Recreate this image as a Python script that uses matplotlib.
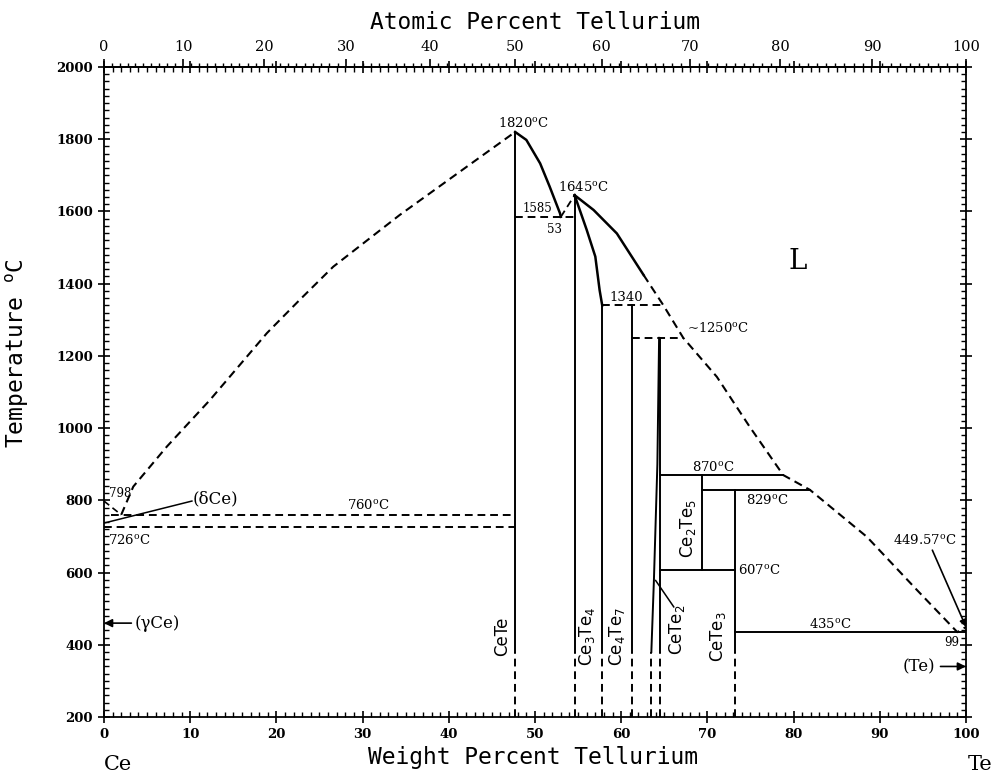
import numpy as np
import matplotlib
matplotlib.use("Agg")
import matplotlib.pyplot as plt
from matplotlib.ticker import MultipleLocator

plt.rcParams['font.family'] = ['DejaVu Serif']
plt.rcParams['mathtext.default'] = 'regular'

# ---------------- data (weight % Te, temperature in deg C) ----------------
M_TE = 127.60
M_CE = 140.116

left_liq_wt = [2.0, 3.4, 7.3, 12.3, 18.9, 22.7, 26.6, 34.3, 42.1, 47.7]
left_liq_T = [760, 838, 949, 1078, 1263, 1355, 1447, 1590, 1724, 1820]

cete_liq_wt = [47.7, 49.0, 50.6, 51.7, 52.9, 53.0]
cete_liq_T = [1820, 1798, 1733, 1669, 1595, 1585]

eut53_wt = [53.0, 54.6]
eut53_T = [1585, 1645]

solidus_wt = [54.6, 56.0, 57.0, 57.5, 57.8]
solidus_T = [1645, 1549, 1475, 1382, 1340]

right_liq_solid_wt = [54.6, 56.8, 59.5, 62.6]
right_liq_solid_T = [1645, 1604, 1539, 1424]

right_liq_dash_wt = [62.6, 64.9, 67.2, 71.1, 74.9, 78.8, 81.9, 88.5, 94.3, 99.0, 100.0]
right_liq_dash_T = [1424, 1340, 1250, 1142, 1004, 870, 829, 699, 552, 435, 449.57]

# vertical phase boundaries: (x, top T)
compounds_x = [47.7, 54.6, 57.8, 61.3, 64.5, 73.2]
compounds_top = [1820, 1645, 1340, 1340, 1250, 829]
solid_low_T = 380

cete2_left_wt = [64.4, 64.2, 63.8, 63.5]
cete2_left_T = [1250, 900, 580, 380]

# horizontal invariant lines
solid_h_T = [870, 829, 607, 435]
solid_h_x0 = [64.5, 69.4, 64.5, 73.2]
solid_h_x1 = [78.8, 81.9, 73.2, 100.0]

dash_h_T = [1585, 1340, 1250, 760, 726]
dash_h_x0 = [47.7, 57.8, 61.3, 0.8, 0.0]
dash_h_x1 = [54.6, 64.9, 67.2, 47.7, 47.7]

ce2te5_x = 69.4
ce2te5_T = [607, 870]

x_ticks = list(range(0, 101, 10))
y_ticks = list(range(200, 2001, 200))
at_ticks = list(range(0, 101, 10))


def wt_to_at(w):
    w = np.asarray(w, dtype=float)
    with np.errstate(divide='ignore', invalid='ignore'):
        a = 100.0 * (w / M_TE) / (w / M_TE + (100.0 - w) / M_CE)
    return a


def at_to_wt(a):
    a = np.asarray(a, dtype=float)
    with np.errstate(divide='ignore', invalid='ignore'):
        w = 100.0 * a * M_TE / (a * M_TE + (100.0 - a) * M_CE)
    return w


# ---------------- figure ----------------
fig = plt.figure(figsize=(9.94, 7.77), dpi=100)
ax = fig.add_axes([0.1046, 0.0772, 0.8672, 0.8366])
ax.set_xlim(0, 100)
ax.set_ylim(200, 2000)

K = 'black'
LW = 1.4
DASH = (0, (4, 2.5))

ax.plot(left_liq_wt, left_liq_T, color=K, lw=1.5, ls=DASH)
ax.plot([0, 2.0], [798, 760], color=K, lw=1.2, ls=DASH)
ax.plot(cete_liq_wt, cete_liq_T, color=K, lw=1.8)
ax.plot(eut53_wt, eut53_T, color=K, lw=1.3, ls=DASH)
ax.plot(solidus_wt, solidus_T, color=K, lw=1.8)
ax.plot(right_liq_solid_wt, right_liq_solid_T, color=K, lw=1.8)
ax.plot(right_liq_dash_wt, right_liq_dash_T, color=K, lw=1.5, ls=DASH)

for x, top in zip(compounds_x, compounds_top):
    ax.plot([x, x], [solid_low_T, top], color=K, lw=LW)
    ax.plot([x, x], [200, solid_low_T], color=K, lw=LW, ls=DASH)

ax.plot(cete2_left_wt, cete2_left_T, color=K, lw=LW)
ax.plot([cete2_left_wt[-1]] * 2, [200, solid_low_T], color=K, lw=LW, ls=DASH)

for T, x0, x1 in zip(solid_h_T, solid_h_x0, solid_h_x1):
    ax.plot([x0, x1], [T, T], color=K, lw=LW)
for T, x0, x1 in zip(dash_h_T, dash_h_x0, dash_h_x1):
    ax.plot([x0, x1], [T, T], color=K, lw=LW, ls=DASH)
ax.plot([ce2te5_x, ce2te5_x], ce2te5_T, color=K, lw=LW)

# ---------------- labels on the diagram ----------------
fs = 9.5
def lab(x, y, s, **kw):
    kw.setdefault('fontsize', fs)
    ax.text(x, y, s, ha='center', va='center', **kw)

lab(48.7, 1845, '1820$^o$C')
lab(55.6, 1668, '1645$^o$C')
lab(50.3, 1608, '1585', fontsize=8.5)
lab(52.3, 1550, '53', fontsize=8.5)
lab(60.6, 1363, '1340')
lab(71.2, 1277, '~1250$^o$C')
lab(70.7, 892, '870$^o$C')
lab(77.0, 801, '829$^o$C')
lab(76.0, 607, '607$^o$C')
lab(84.3, 458, '435$^o$C')
lab(30.7, 787, '760$^o$C')
lab(3.0, 690, '726$^o$C')
lab(1.9, 820, '798', fontsize=8.5)
lab(98.4, 405, '99', fontsize=8.5)
lab(80.5, 1460, 'L', fontsize=20)

rot = dict(rotation=90, fontsize=12, family='DejaVu Sans')
lab(46.2, 424, 'CeTe', **rot)
lab(56.0, 422, 'Ce$_3$Te$_4$', **rot)
lab(59.5, 422, 'Ce$_4$Te$_7$', **rot)
lab(66.5, 441, 'CeTe$_2$', **rot)
lab(71.2, 422, 'CeTe$_3$', **rot)
lab(67.7, 723, 'Ce$_2$Te$_5$', **rot)

ax.plot([64.0, 66.1], [578, 505], color=K, lw=1.1)
ax.plot([0, 10.2], [737, 798], color=K, lw=1.1)
ax.text(10.3, 805, '(δCe)', ha='left', va='center', fontsize=12)

ax.annotate('(γCe)', xy=(0, 460), xytext=(3.5, 460), ha='left', va='center', fontsize=12,
            arrowprops=dict(arrowstyle='-|>', color=K, lw=1.2, shrinkA=0, shrinkB=0))
ax.annotate('(Te)', xy=(100, 340), xytext=(96.4, 340), ha='right', va='center', fontsize=12,
            arrowprops=dict(arrowstyle='-|>', color=K, lw=1.2, shrinkA=2, shrinkB=0))
ax.text(95.2, 690, '449.57$^o$C', ha='center', va='center', fontsize=fs)
ax.annotate('', xy=(100, 449.57), xytext=(96.1, 662),
            arrowprops=dict(arrowstyle='-|>', color=K, lw=1.2, shrinkA=0, shrinkB=0))

# ---------------- axes, ticks ----------------
for sp in ax.spines.values():
    sp.set_linewidth(1.3)

ax.set_xticks(x_ticks)
ax.set_yticks(y_ticks)
ax.xaxis.set_minor_locator(MultipleLocator(1))
ax.yaxis.set_minor_locator(MultipleLocator(20))
ax.tick_params(which='major', direction='inout', length=9, width=1.2, top=True, right=True,
               labelsize=9.5)
ax.tick_params(which='minor', direction='in', length=3.5, width=1.0, top=True, right=True)
for lbl in ax.get_xticklabels() + ax.get_yticklabels():
    lbl.set_fontweight('bold')

secax = ax.secondary_xaxis('top', functions=(wt_to_at, at_to_wt))
secax.set_xticks(at_ticks)
secax.xaxis.set_minor_locator(MultipleLocator(1))
secax.tick_params(which='major', direction='out', length=6, width=1.2, labelsize=10.5)
secax.tick_params(which='minor', direction='out', length=3, width=1.0)
secax.spines['top'].set_linewidth(1.3)

mono = 'DejaVu Sans Mono'
ax.set_xlabel('Weight Percent Tellurium', fontsize=16.5, family=mono)
ax.xaxis.set_label_coords(0.498, -0.045)
ax.set_ylabel('Temperature $^o$C', fontsize=16.5, family=mono)
ax.yaxis.set_label_coords(-0.085, 0.56)
secax.set_xlabel('Atomic Percent Tellurium', fontsize=16.5, family=mono, labelpad=8)

ax.text(0, -0.073, 'Ce', transform=ax.get_xaxis_transform(), ha='left', va='center', fontsize=15)
ax.text(100.2, -0.073, 'Te', transform=ax.get_xaxis_transform(), ha='left', va='center', fontsize=15)

fig.savefig('out.png', dpi=100)
